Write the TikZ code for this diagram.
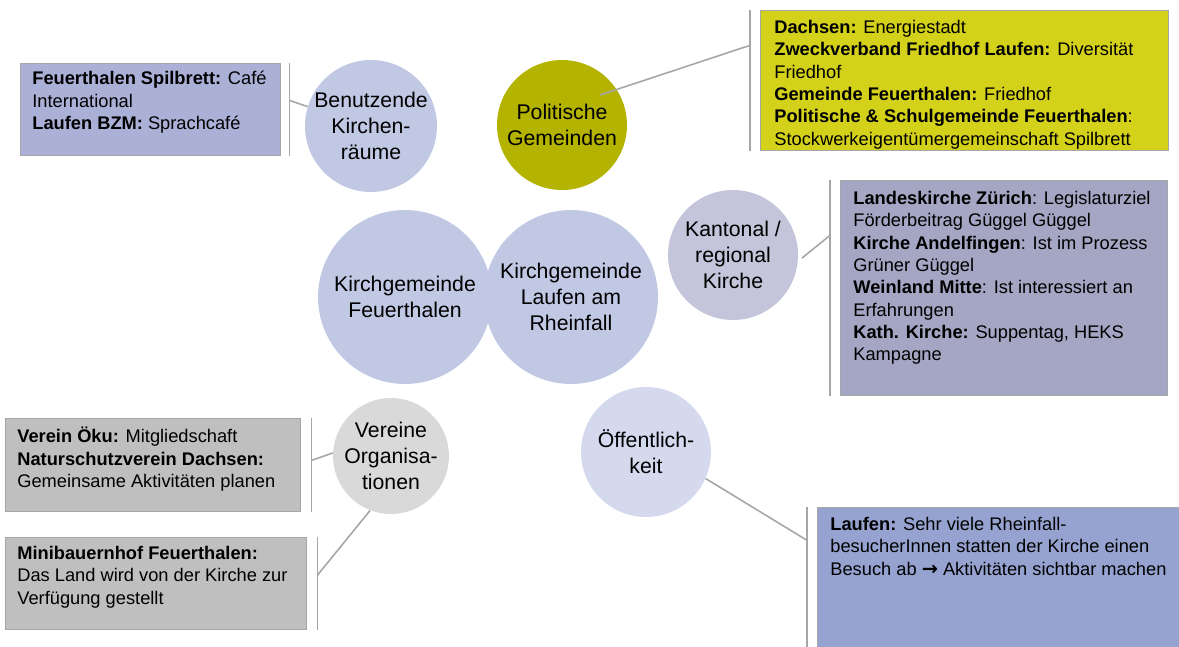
\documentclass[tikz,border=0pt]{standalone}
\usepackage{fontspec}
\setmainfont{Liberation Sans}
\newfontfamily\pfeilfont{DejaVu Sans}
\usetikzlibrary{calc}

\definecolor{kreisblau}{HTML}{C0C8E4}
\definecolor{oliv}{HTML}{B3B300}
\definecolor{kantlila}{HTML}{C4C4DA}
\definecolor{oeffblau}{HTML}{D4D9EE}
\definecolor{vereingrau}{HTML}{D9D9D9}
\definecolor{spilblau}{HTML}{AAB0D6}
\definecolor{gelb}{HTML}{D4D11A}
\definecolor{kantbox}{HTML}{A5A5C4}
\definecolor{graubox}{HTML}{BFBFBF}
\definecolor{laufblau}{HTML}{96A3D0}
\definecolor{linie}{HTML}{A6A6A6}

\tikzset{
	kreis/.style={circle, inner sep=0pt, align=center, font=\fontsize{12.1}{14.7}\selectfont},
	kasten/.style={draw=linie, line width=0.8pt, anchor=north west, inner sep=0pt},
	ktext/.style={anchor=north west, align=left, inner sep=0pt, font=\fontsize{10.4}{12.7}\selectfont},
	klammer/.style={draw=linie, line width=0.9pt},
	verbinder/.style={draw=linie, line width=0.9pt},
}

\begin{document}
\begin{tikzpicture}[x=0.02cm, y=-0.02cm]
	\useasboundingbox (0,0) rectangle (1179,646);
	\clip (0,0) rectangle (1179,646);

	% Kreise
	\node[kreis, fill=kreisblau, minimum size=3.48cm] (feu) at (405,297) {Kirchgemeinde\\Feuerthalen};
	\node[kreis, fill=kreisblau, minimum size=3.48cm] (lauf) at (571,297) {Kirchgemeinde\\Laufen am\\Rheinfall};
	\node[kreis, fill=kreisblau, minimum size=2.64cm] (benutz) at (371,126) {Benutzende\\Kirchen-\\räume};
	\node[kreis, fill=oliv, minimum size=2.6cm] (pol) at (562,125) {Politische\\Gemeinden};
	\node[kreis, fill=kantlila, minimum size=2.6cm] (kan) at (733,255) {Kantonal /\\regional\\Kirche};
	\node[kreis, fill=vereingrau, minimum size=2.32cm] (verein) at (391,456) {Vereine\\Organisa-\\tionen};
	\node[kreis, fill=oeffblau, minimum size=2.6cm] (oef) at (646,452) {Öffentlich-\\keit};

	% Kaesten
	\node[kasten, fill=spilblau, minimum width=5.2cm, minimum height=1.84cm] (spil) at (20,63) {};
	\node[ktext] (spiltext) at ($(spil.north west)+(12,8)$) {\textbf{Feuerthalen Spilbrett:} Café\\International\\\textbf{Laufen BZM:} Sprachcafé};

	\node[kasten, fill=gelb, minimum width=8.16cm, minimum height=2.8cm] (polbox) at (760,10) {};
	\node[ktext] (poltext) at ($(polbox.north west)+(14,10)$) {\textbf{Dachsen:} Energiestadt\\\textbf{Zweckverband Friedhof Laufen:} Diversität\\Friedhof\\\textbf{Gemeinde Feuerthalen:} Friedhof\\\textbf{Politische \& Schulgemeinde Feuerthalen}:\\Stockwerkeigentümergemeinschaft Spilbrett};

	\node[kasten, fill=kantbox, minimum width=6.54cm, minimum height=4.3cm] (kanbox) at (840,180) {};
	\node[ktext] (kantext) at ($(kanbox.north west)+(13,11)$) {\textbf{Landeskirche Zürich}: Legislaturziel\\Förderbeitrag Güggel Güggel\\\textbf{Kirche Andelfingen}: Ist im Prozess\\Grüner Güggel\\\textbf{Weinland Mitte}: Ist interessiert an\\Erfahrungen\\\textbf{Kath. Kirche:} Suppentag, HEKS\\Kampagne};

	\node[kasten, fill=graubox, minimum width=5.9cm, minimum height=1.86cm] (okubox) at (5,418) {};
	\node[ktext] (okutext) at ($(okubox.north west)+(12,9)$) {\textbf{Verein Öku:} Mitgliedschaft\\\textbf{Naturschutzverein Dachsen:}\\Gemeinsame Aktivitäten planen};

	\node[kasten, fill=graubox, minimum width=6.02cm, minimum height=1.84cm] (minibox) at (5,537) {};
	\node[ktext] (minitext) at ($(minibox.north west)+(12,9)$) {\textbf{Minibauernhof Feuerthalen:}\\Das Land wird von der Kirche zur\\Verfügung gestellt};

	\node[kasten, fill=laufblau, minimum width=7.4cm, minimum height=3cm] (oefbox) at (817,507) {};
	\node[ktext] (oeftext) at ($(oefbox.north west)+(13,10)$) {\textbf{Laufen:} Sehr viele Rheinfall-\\besucherInnen statten der Kirche einen\\Besuch ab {\pfeilfont\bfseries\fontsize{11}{12.7}\selectfont →} Aktivitäten sichtbar machen};

	% Klammern
	\draw[klammer] ([xshift=0.16cm]spil.north east) -- coordinate[pos=0.4] (k1) ([xshift=0.16cm]spil.south east);
	\draw[klammer] ([xshift=-0.2cm]polbox.north west) -- coordinate[pos=0.25] (k2) ([xshift=-0.2cm]polbox.south west);
	\draw[klammer] ([xshift=-0.2cm]kanbox.north west) -- coordinate[pos=0.256] (k3) ([xshift=-0.2cm]kanbox.south west);
	\draw[klammer] ([xshift=0.2cm]okubox.north east) -- coordinate[pos=0.45] (k4) ([xshift=0.2cm]okubox.south east);
	\draw[klammer] ([xshift=0.2cm]minibox.north east) -- coordinate[pos=0.41] (k5) ([xshift=0.2cm]minibox.south east);
	\draw[klammer] ([xshift=-0.2cm]oefbox.north west) -- coordinate[pos=0.22] (k6) ([xshift=-0.2cm]oefbox.south west);

	% Verbinder
	\draw[verbinder] (k1) -- (benutz.163);
	\draw[verbinder] (k2) -- ($(pol.center)+(38,-30)$);
	\draw[verbinder] (k3) -- ($(kan.center)+(69,3)$);
	\draw[verbinder] (k4) -- (verein.177);
	\draw[verbinder] (k5) -- (verein.249);
	\draw[verbinder] (k6) -- (oef.-24);

\end{tikzpicture}
\end{document}
